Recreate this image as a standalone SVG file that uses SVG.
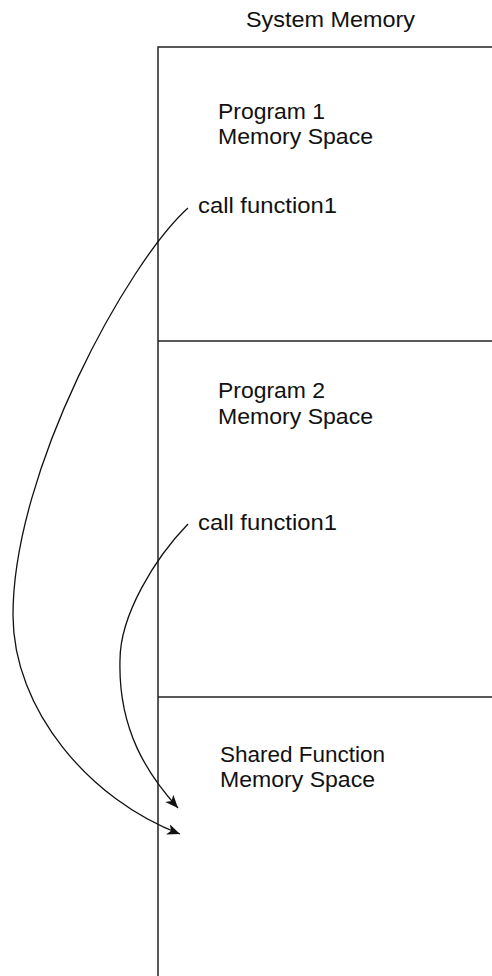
<svg xmlns="http://www.w3.org/2000/svg" width="492" height="976" viewBox="0 0 492 976">
<style>
  text { font-family: "Liberation Sans", Arial, sans-serif; font-size: 22px; fill: #111; }
  .wall { stroke: #222; stroke-width: 1.5; fill: none; }
  .conn { stroke: #111; stroke-width: 1.3; fill: none; marker-end: url(#arrow); }
</style>
<defs>
  <marker id="arrow" markerUnits="userSpaceOnUse" markerWidth="14" markerHeight="12" refX="13" refY="5.5" orient="auto">
    <path d="M0,0 L13,5.5 L0,11 L3.5,5.5 Z" fill="#111"/>
  </marker>
</defs>
<g id="title">
  <text x="246" y="27" textLength="169" lengthAdjust="spacingAndGlyphs">System Memory</text>
</g>
<g id="memory-frame">
  <path class="wall" d="M492,47 H158 V976"/>
</g>
<g id="program1">
  <text x="218" y="119" textLength="107" lengthAdjust="spacingAndGlyphs">Program 1</text>
  <text x="218" y="144" textLength="155" lengthAdjust="spacingAndGlyphs">Memory Space</text>
  <text x="198" y="213" textLength="139" lengthAdjust="spacingAndGlyphs">call function1</text>
</g>
<g id="program2">
  <line class="wall" x1="158" y1="341" x2="492" y2="341"/>
  <text x="218" y="398" textLength="107" lengthAdjust="spacingAndGlyphs">Program 2</text>
  <text x="218" y="424" textLength="155" lengthAdjust="spacingAndGlyphs">Memory Space</text>
  <text x="198" y="530" textLength="139" lengthAdjust="spacingAndGlyphs">call function1</text>
</g>
<g id="shared">
  <line class="wall" x1="158" y1="697" x2="492" y2="697"/>
  <text x="220" y="762" textLength="165" lengthAdjust="spacingAndGlyphs">Shared Function</text>
  <text x="220" y="787" textLength="155" lengthAdjust="spacingAndGlyphs">Memory Space</text>
</g>
<g id="connectors">
  <path class="conn" d="M188,208 C128,262 13,470 13,615 C13,710 90,800 180,834"/>
  <path class="conn" d="M188,524 C155,558 120,615 120,660 C118,730 148,775 178,808"/>
</g>
</svg>
